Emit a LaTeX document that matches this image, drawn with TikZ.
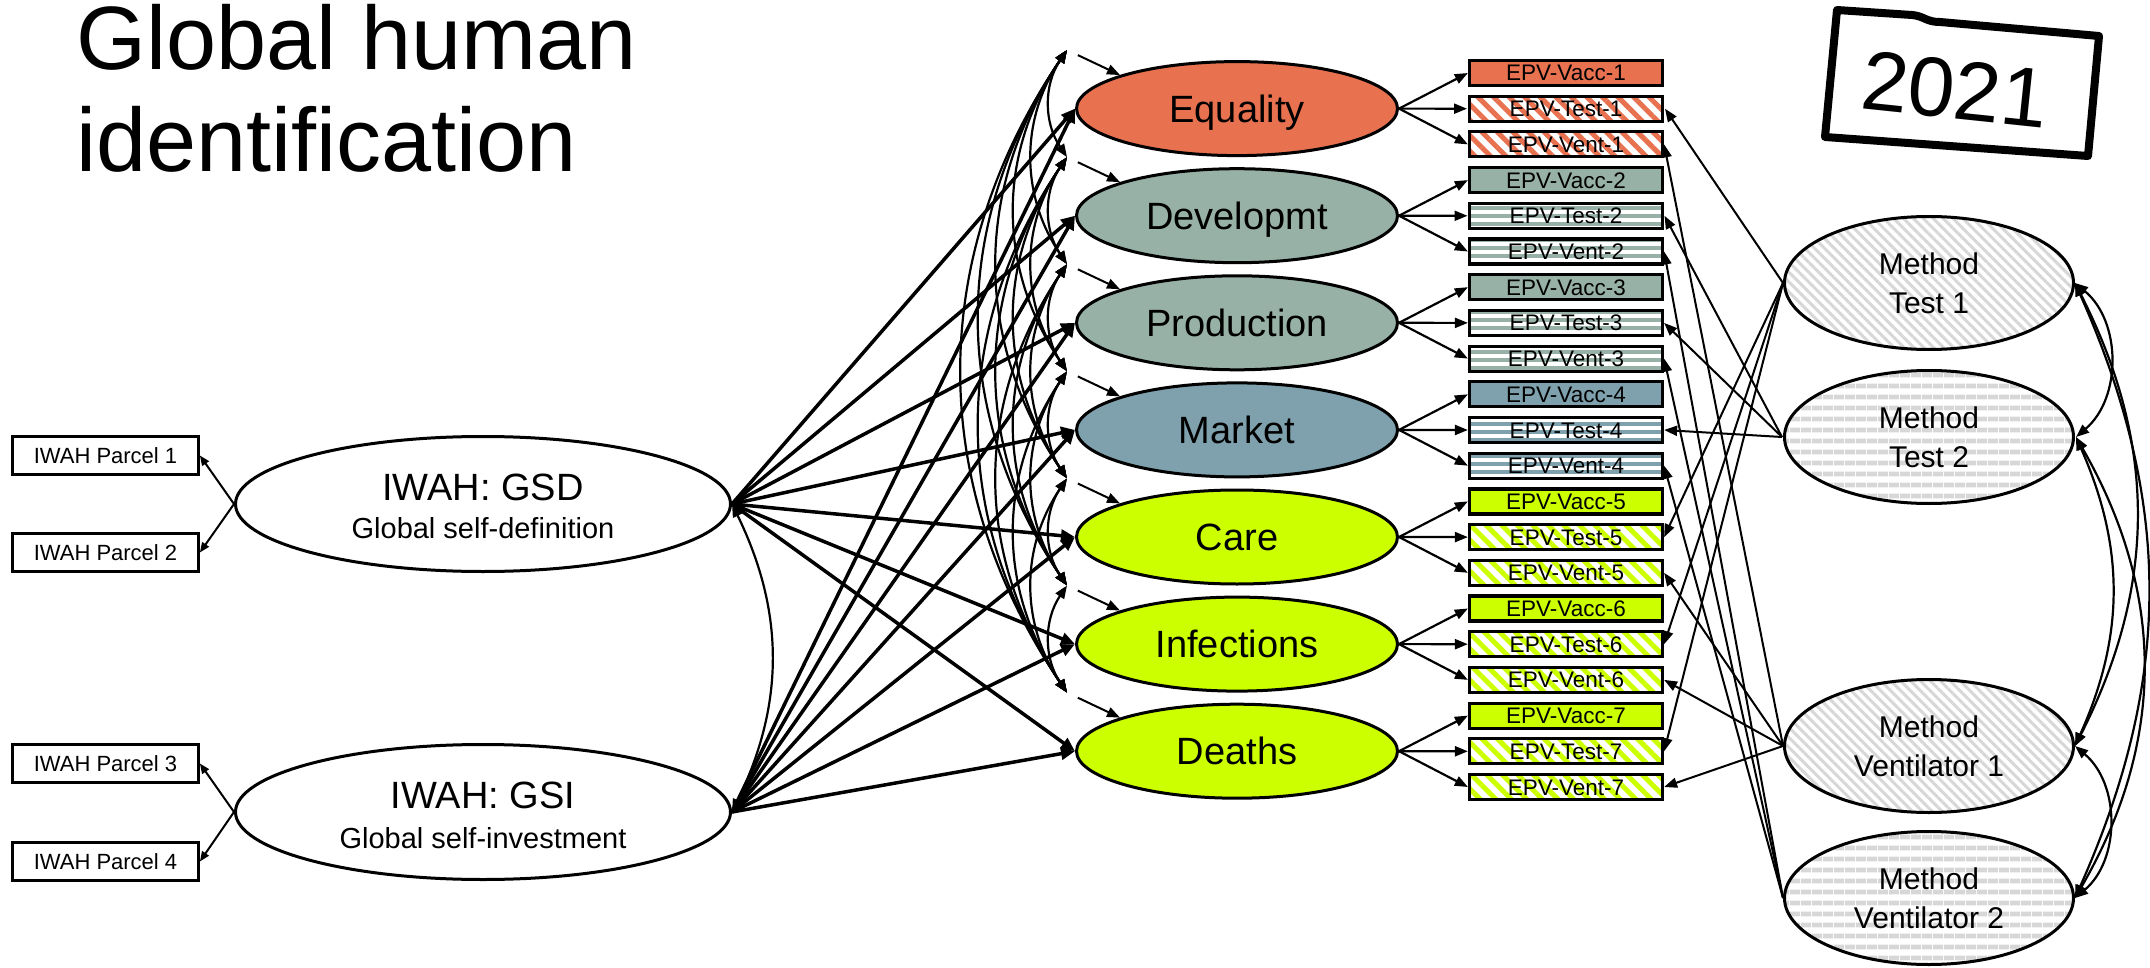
\documentclass[tikz,border=0pt]{standalone}
\usepackage{fontspec}
\setmainfont{Liberation Sans}
\usetikzlibrary{shapes.geometric,arrows.meta,patterns.meta}

\definecolor{eqcol}{RGB}{232,113,80}
\definecolor{devcol}{RGB}{151,177,166}
\definecolor{mktcol}{RGB}{126,161,173}
\definecolor{limecol}{RGB}{204,255,0}
\definecolor{mgrey}{RGB}{215,215,215}

\newcommand{\fsize}[2]{\fontsize{#1}{#2}\selectfont}

\tikzset{
  factor/.style={ellipse, draw, line width=3pt, minimum width=321pt, minimum height=94pt,
    inner sep=0pt, font=\fsize{38}{40}, text height=27pt, text depth=0pt},
  epv/.style={rectangle, draw, line width=3.2pt, minimum width=193pt, minimum height=25pt,
    inner sep=0pt, font=\fsize{22.5}{24}, text height=16pt, text depth=0pt},
  parcel/.style={rectangle, draw, line width=2.8pt, minimum width=186pt, minimum height=38pt,
    inner sep=0pt, font=\fsize{22}{24}, text height=15.75pt, text depth=0pt},
  global/.style={ellipse, draw, line width=3pt, minimum width=495pt, minimum height=135pt, inner sep=0pt},
  method/.style={ellipse, draw, line width=3pt, minimum width=289pt, minimum height=133pt,
    inner sep=0pt, align=center, font=\fsize{30}{39}, pattern color=mgrey},
  mdiag/.style={pattern={Lines[angle=-45,distance=7pt,line width=3pt]}},
  mhori/.style={pattern={Lines[angle=0,distance=10.5pt,line width=5pt]}},
  regr/.style={line width=3.5pt, -{Triangle[length=14pt,width=12pt]}},
  load/.style={line width=2.2pt, -{Triangle[length=13pt,width=10pt]}},
  mload/.style={line width=2pt, -{Triangle[length=13pt,width=10pt]}},
  resid/.style={line width=2pt, shorten <=12pt, -{Triangle[length=13pt,width=10pt]}},
  cov/.style={line width=2.2pt, {Triangle[length=13pt,width=10pt]}-{Triangle[length=13pt,width=10pt]}},
  ind/.style={line width=2pt, -{Triangle[length=10pt,width=8pt]}}
}

\begin{document}
\begin{tikzpicture}[x=1pt, y=1pt]
  \useasboundingbox (0,0) rectangle (2150,-968);

  \node[anchor=base west, inner sep=0pt, font=\fsize{90}{100}] (title1) at (76,-70) {Global human};
  \node[anchor=base west, inner sep=0pt, font=\fsize{90}{100}] (title2) at (76,-172) {identification};

  \draw[line width=8pt, line join=round] (1837,-10) -- (1912,-15)
    .. controls (1924,-16) and (1926,-22) .. (1940,-22) -- (2099,-36) -- (2088,-156) -- (1825,-137) -- cycle;
  \node[rotate=-6, inner sep=0pt, font=\fsize{84}{90}] (year) at (1955,-90) {2021};

  \node[parcel] (p1) at (105.5,-455.5) {IWAH Parcel 1};
  \node[parcel] (p2) at (105.5,-552.5) {IWAH Parcel 2};
  \node[parcel] (p3) at (105.5,-763.5) {IWAH Parcel 3};
  \node[parcel] (p4) at (105.5,-861.5) {IWAH Parcel 4};

  \node[global] (gsd) at (483,-504) {};
  \node[anchor=base, font=\fsize{38}{40}] (gsdname) at (483,-500) {IWAH: GSD};
  \node[anchor=base, font=\fsize{29}{31}] (gsddesc) at (483,-538) {Global self-definition};
  \node[global] (gsi) at (483,-812) {};
  \node[anchor=base, font=\fsize{38}{40}] (gsiname) at (483,-808) {IWAH: GSI};
  \node[anchor=base, font=\fsize{29}{31}] (gsidesc) at (483,-848) {Global self-investment};

  \foreach \lab/\col/\ang/\dis/\lw [count=\k] in {Equality/eqcol/-45/11pt/5pt,
      Developmt/devcol/0/8pt/4pt, Production/devcol/0/8pt/4pt, Market/mktcol/0/8pt/4pt,
      Care/limecol/-45/11pt/5pt, Infections/limecol/-45/11pt/5pt, Deaths/limecol/-45/11pt/5pt}{
    \node[factor, fill=\col] (f\k) at (1237,{-108.6-107.1*(\k-1)}) {\lab};
    \node[epv, fill=\col] (vacc\k) at (1566,{-73-107.1*(\k-1)}) {EPV-Vacc-\k};
    \node[epv, pattern color=\col, pattern={Lines[angle=\ang,distance=\dis,line width=\lw]}]
      (test\k) at (1566,{-108.7-107.1*(\k-1)}) {EPV-Test-\k};
    \node[epv, pattern color=\col, pattern={Lines[angle=\ang,distance=\dis,line width=\lw]}]
      (vent\k) at (1566,{-144.4-107.1*(\k-1)}) {EPV-Vent-\k};
    \coordinate (e\k) at (1067,{-50-107.1*(\k-1)});
    \foreach \b in {vacc,test,vent}
      \draw[load] (f\k.east) -- (\b\k.west);
    \draw[resid] (e\k) -- (f\k.164);
    \draw[regr] (gsd.east) -- (f\k.west);
    \draw[regr] (gsi.east) -- (f\k.west);
  }

  \foreach \i in {1,...,6}{
    \pgfmathtruncatemacro{\first}{\i+1}
    \foreach \j in {\first,...,7}
      \draw[cov] (e\i) to[bend right=34] (e\j);
  }

  \node[method, mdiag] (mt1) at (1929,-283) {Method\\Test 1};
  \node[method, mhori] (mt2) at (1929,-437) {Method\\Test 2};
  \node[method, mdiag] (mv1) at (1929,-746) {Method\\Ventilator 1};
  \node[method, mhori] (mv2) at (1929,-898) {Method\\Ventilator 2};

  \foreach \k in {1,5,6,7}{
    \draw[mload] (mt1.west) -- (test\k.east);
    \draw[mload] (mv1.west) -- (vent\k.east);
  }
  \foreach \k in {2,3,4}{
    \draw[mload] (mt2.west) -- (test\k.east);
    \draw[mload] (mv2.west) -- (vent\k.east);
  }

  \draw[cov] (mt1.east) to[bend left=50] (mt2.east);
  \draw[cov] (mt1.east) to[bend left=27] (mv1.east);
  \draw[cov] (mt1.east) to[bend left=24] (mv2.east);
  \draw[cov] (mt2.east) to[bend left=24] (mv1.east);
  \draw[cov] (mt2.east) to[bend left=30] (mv2.east);
  \draw[cov] (mv1.east) to[bend left=50] (mv2.east);

  \draw[cov] (gsd.east) to[bend left=26] (gsi.east);
  \draw[ind] (gsd.west) -- (p1.east);
  \draw[ind] (gsd.west) -- (p2.east);
  \draw[ind] (gsi.west) -- (p3.east);
  \draw[ind] (gsi.west) -- (p4.east);
\end{tikzpicture}
\end{document}
